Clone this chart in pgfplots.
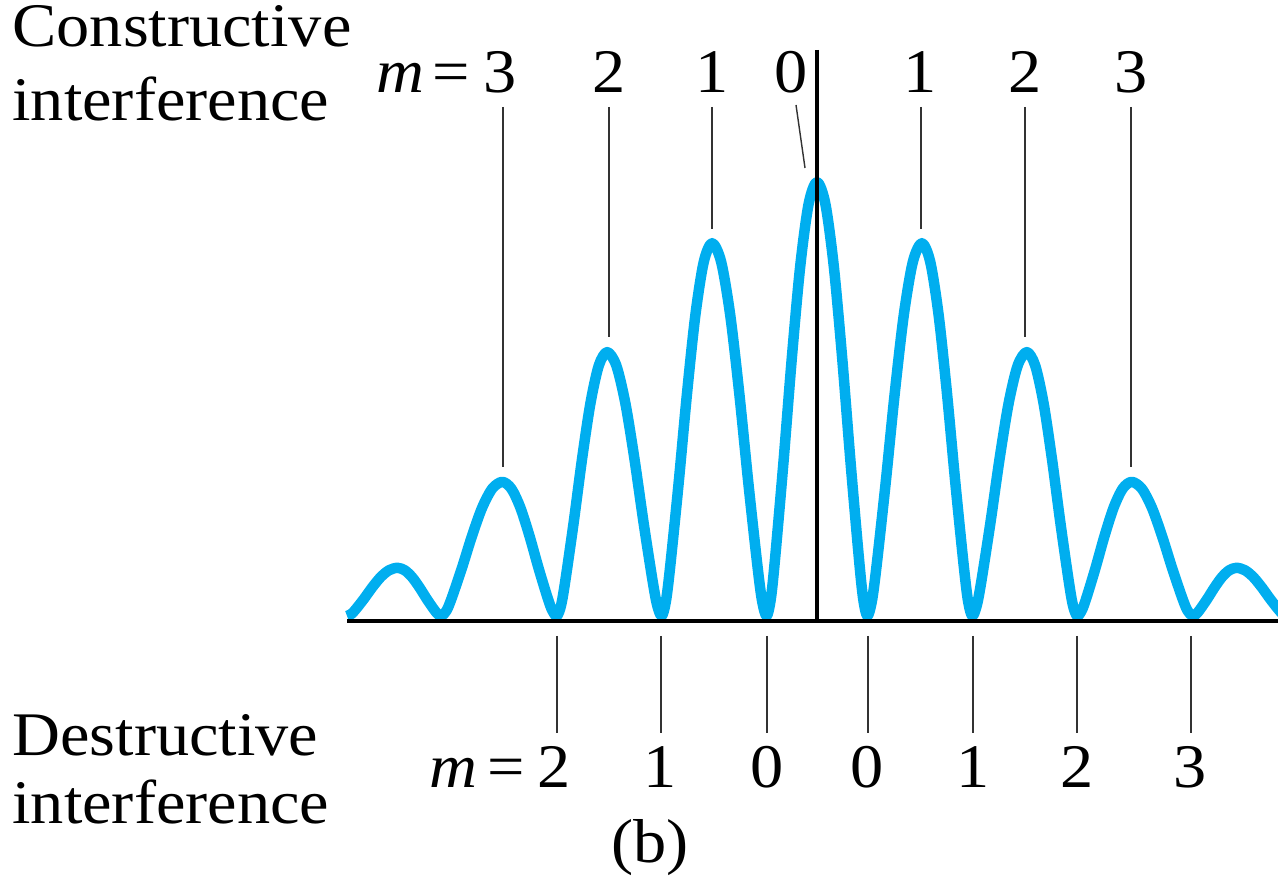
\documentclass[border=0pt]{standalone}
\usepackage{pgfplots}
\usepackage{pgfplotstable}
\pgfplotsset{compat=1.18}
\usepackage{fontspec}
\setmainfont{Liberation Serif}
\definecolor{wave}{RGB}{0,174,239}

% Intensity pattern: x is the phase in units of the fringe order m,
% y is the intensity relative to the central maximum.
\pgfplotstableread{
x y
-4.48 0
-4.44 0.0044
-4.40 0.0146
-4.32 0.0392
-4.24 0.0660
-4.16 0.0895
-4.08 0.1054
-4.00 0.111
-3.93 0.1054
-3.86 0.0895
-3.79 0.0660
-3.72 0.0392
-3.65 0.0146
-3.615 0.0044
-3.58 0
-3.5317 0.0124
-3.4833 0.0407
-3.3867 0.1093
-3.29 0.1837
-3.1933 0.2490
-3.0967 0.2933
-3.00 0.309
-2.9133 0.2933
-2.8267 0.2490
-2.74 0.1837
-2.6533 0.1093
-2.5667 0.0407
-2.5233 0.0124
-2.48 0
-2.44 0.0243
-2.40 0.0801
-2.32 0.2150
-2.24 0.3615
-2.16 0.4900
-2.08 0.5772
-2.00 0.608
-1.9133 0.5772
-1.8267 0.4900
-1.74 0.3615
-1.6533 0.2150
-1.5667 0.0801
-1.5233 0.0243
-1.48 0
-1.44 0.0344
-1.40 0.1131
-1.32 0.3037
-1.24 0.5108
-1.16 0.6923
-1.08 0.8155
-1.00 0.859
-0.9133 0.8155
-0.8267 0.6923
-0.74 0.5108
-0.6533 0.3037
-0.5667 0.1131
-0.5233 0.0344
-0.48 0
-0.44 0.040
-0.40 0.1317
-0.32 0.3536
-0.24 0.5946
-0.16 0.8059
-0.08 0.9493
0 1
0.08 0.9493
0.16 0.8059
0.24 0.5946
0.32 0.3536
0.40 0.1317
0.44 0.040
0.48 0
0.5233 0.0344
0.5667 0.1131
0.6533 0.3037
0.74 0.5108
0.8267 0.6923
0.9133 0.8155
1.00 0.859
1.08 0.8155
1.16 0.6923
1.24 0.5108
1.32 0.3037
1.40 0.1131
1.44 0.0344
1.48 0
1.5233 0.0243
1.5667 0.0801
1.6533 0.2150
1.74 0.3615
1.8267 0.4900
1.9133 0.5772
2.00 0.608
2.08 0.5772
2.16 0.4900
2.24 0.3615
2.32 0.2150
2.40 0.0801
2.44 0.0243
2.48 0
2.5233 0.0124
2.5667 0.0407
2.6533 0.1093
2.74 0.1837
2.8267 0.2490
2.9133 0.2933
3.00 0.309
3.0967 0.2933
3.1933 0.2490
3.29 0.1837
3.3867 0.1093
3.4833 0.0407
3.5317 0.0124
3.58 0
3.615 0.0044
3.65 0.0146
3.72 0.0392
3.79 0.0660
3.86 0.0895
3.93 0.1054
4.00 0.111
4.08 0.1054
4.16 0.0895
4.24 0.0660
4.32 0.0392
4.40 0.0146
4.44 0.0044
4.48 0
}\fringetable

\tikzset{
  lbl/.style={inner sep=0pt, xscale=1.07, font=\fontsize{31}{37}\selectfont},
  guide/.style={black!80, line width=0.7pt},
}

\begin{document}
\begin{tikzpicture}
\begin{axis}[
  at={(0,0)}, anchor=south west,
  scale only axis, width=639pt, height=439pt,
  xmin=-7.7884, xmax=4.3947, ymin=-0.6037, ymax=1.4194,
  hide axis, clip=true,
]
\addplot[wave, line width=5.25pt, smooth, line join=round] table {\fringetable};
\end{axis}

% annotations, placed on a 1278 x 878 grid (origin top left)
\begin{scope}[shift={(0pt,439pt)}, x=0.5pt, y=-0.5pt]
  % screen axis and centre line
  \draw[black, line width=1.75pt] (347,621) -- (1278,621);
  \draw[black, line width=1.6pt] (817,50) -- (817,621);

  % constructive orders
  \foreach \xx/\yy in {503/467, 609/337, 712/229, 921/229, 1025/337, 1131/467}
    \draw[guide] (\xx,107) -- (\xx,\yy);
  \draw[guide] (796,105) -- (805,168);

  % destructive orders
  \foreach \xx in {557, 661, 767, 868, 973, 1077, 1191}
    \draw[guide] (\xx,636) -- (\xx,733);

  \node[lbl, anchor=base west] at (12,47) {Constructive};
  \node[lbl, anchor=base west] at (12,121) {interference};
  \node[lbl, anchor=base west] at (12,755) {Destructive};
  \node[lbl, anchor=base west] at (12,823) {interference};

  \node[lbl, anchor=base west] at (376,93) {\textit{m}};
  \node[lbl, anchor=base] at (451,93) {=};
  \foreach \xx/\t in {500/3, 609/2, 712/1, 791/0, 920/1, 1025/2, 1131/3}
    \node[lbl, anchor=base] at (\xx,93) {\t};

  \node[lbl, anchor=base west] at (429,787) {\textit{m}};
  \node[lbl, anchor=base] at (506,787) {=};
  \foreach \xx/\t in {554/2, 660/1, 767/0, 867/0, 973/1, 1077/2, 1190/3}
    \node[lbl, anchor=base] at (\xx,787) {\t};

  \node[lbl, anchor=base] at (650,862) {(b)};
\end{scope}

\pgfresetboundingbox
\path (0,0) rectangle (639pt,439pt);
\end{tikzpicture}
\end{document}
